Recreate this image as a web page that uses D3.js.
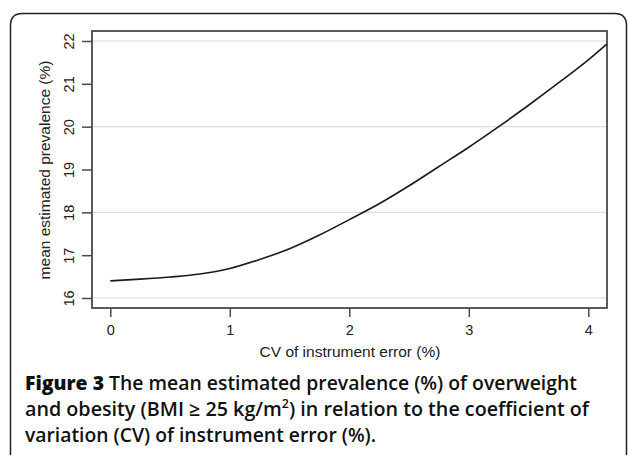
<!DOCTYPE html>
<html><head><meta charset="utf-8">
<script src="https://cdn.jsdelivr.net/npm/d3@7"></script>
<style>body{margin:0;background:#fff;}svg{display:block;}</style>
</head><body>
<script>
const cvValues = [0, 0.25, 0.5, 0.75, 1.0, 1.25, 1.5, 1.75, 2.0, 2.25, 2.5, 2.75, 3.0, 3.25, 3.5, 3.75, 4.0, 4.155];
const prevalence = [16.40, 16.44, 16.49, 16.56, 16.69, 16.90, 17.15, 17.47, 17.83, 18.20, 18.62, 19.07, 19.52, 20.0, 20.5, 21.02, 21.56, 21.93];
const xTicks = [0, 1, 2, 3, 4];
const yTicks = [16, 17, 18, 19, 20, 21, 22];
const yGrid = [16, 18, 20, 22];
const xTitle = "CV of instrument error (%)";
const yTitle = "mean estimated prevalence (%)";

(function () {
const W = 628, H = 455;
const svg = d3.select("body").append("svg").attr("width", W).attr("height", H);
const axisFont = "Liberation Sans, Arial, sans-serif";

// outer rounded box
const bx0 = 10.5, by0 = 13.5, bx1 = 626.5, r = 12;
svg.append("path")
  .attr("d", `M${bx0},${H+5} L${bx0},${by0+r} Q${bx0},${by0} ${bx0+r},${by0} L${bx1-r},${by0} Q${bx1},${by0} ${bx1},${by0+r} L${bx1},${H+5}`)
  .attr("fill", "none").attr("stroke", "#222").attr("stroke-width", 1.5);

const x = d3.scaleLinear().domain([0, 4]).range([110.3, 588.3]);
const y = d3.scaleLinear().domain([16, 22]).range([298, 41]);
const pL = 92, pR = 607, pT = 31, pB = 308;

// grid
svg.append("g").selectAll("line").data(yGrid).join("line")
  .attr("x1", pL).attr("x2", pR)
  .attr("y1", d => y(d)).attr("y2", d => y(d))
  .attr("stroke", "#dcdcdc").attr("stroke-width", 1.2);

// frame
svg.append("rect").attr("x", pL).attr("y", pT).attr("width", pR-pL).attr("height", pB-pT)
  .attr("fill", "none").attr("stroke", "#4a4a4a").attr("stroke-width", 1.8);

// x axis
const xAxis = d3.axisBottom(x).tickValues(xTicks).tickSize(9).tickPadding(8).tickFormat(d3.format("d"));
const gx = svg.append("g").attr("transform", `translate(0,${pB})`).call(xAxis);
gx.select(".domain").remove();
gx.selectAll("line").attr("stroke", "#4a4a4a").attr("stroke-width", 1.5);
gx.selectAll("text").attr("font-family", axisFont).attr("font-size", 14.5).attr("fill", "#222");

// y axis
const yAxis = d3.axisLeft(y).tickValues(yTicks).tickSize(10).tickPadding(4).tickFormat(d3.format("d"));
const gy = svg.append("g").attr("transform", `translate(${pL},0)`).call(yAxis);
gy.select(".domain").remove();
gy.selectAll("line").attr("stroke", "#4a4a4a").attr("stroke-width", 1.5);
gy.selectAll("text")
  .attr("font-family", axisFont).attr("font-size", 14.5).attr("fill", "#222")
  .attr("text-anchor", "middle").attr("x", null)
  .attr("transform", "translate(-23,0) rotate(-90)").attr("dy", "0.35em");

// curve
const line = d3.line().x((d, i) => x(cvValues[i])).y(d => y(d)).curve(d3.curveMonotoneX);
svg.append("path").datum(prevalence).attr("d", line)
  .attr("fill", "none").attr("stroke", "#1a1a1a").attr("stroke-width", 1.6);

// axis titles
svg.append("text").attr("x", 350).attr("y", 357).attr("text-anchor", "middle")
  .attr("font-family", axisFont).attr("font-size", 15.5).attr("fill", "#222").text(xTitle);
svg.append("text").attr("transform", "translate(50,170) rotate(-90)").attr("text-anchor", "middle")
  .attr("font-family", axisFont).attr("font-size", 15.5).attr("fill", "#222").text(yTitle);

// caption
const cap = svg.append("g").attr("font-family", "Open Sans, sans-serif").attr("font-size", 19)
  .attr("font-weight", 600).attr("fill", "#111");
const t1 = cap.append("text").attr("x", 25).attr("y", 390).attr("textLength", 552).attr("lengthAdjust", "spacingAndGlyphs");
t1.append("tspan").attr("font-weight", 800).text("Figure 3");
t1.append("tspan").text(" The mean estimated prevalence (%) of overweight");
const t2 = cap.append("text").attr("x", 25).attr("y", 415.7).attr("textLength", 564).attr("lengthAdjust", "spacingAndGlyphs");
t2.append("tspan").text("and obesity (BMI \u2265 25 kg/m");
t2.append("tspan").attr("font-size", 12).attr("dy", -8).text("2");
t2.append("tspan").attr("dy", 8).text(") in relation to the coefficient of");
cap.append("text").attr("x", 25).attr("y", 441.5).attr("textLength", 351).attr("lengthAdjust", "spacingAndGlyphs")
  .text("variation (CV) of instrument error (%).");
})();
</script>
</body></html>
